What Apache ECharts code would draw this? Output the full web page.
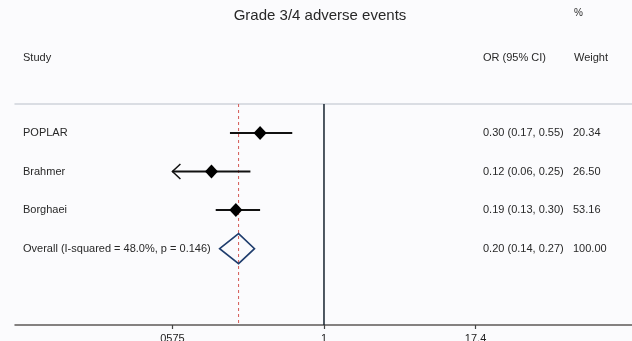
<!DOCTYPE html>
<html>
<head>
<meta charset="utf-8">
<script src="https://cdn.jsdelivr.net/npm/echarts@6/dist/echarts.min.js"></script>
<style>
  html, body { margin: 0; padding: 0; background: #fbfbfd; }
  #chart { width: 632px; height: 341px; }
</style>
</head>
<body>
<div id="chart"></div>
<script>
// Per-study odds ratios for grade 3/4 adverse events
const studies = ['POPLAR', 'Brahmer', 'Borghaei'];
const oddsRatios = [0.30, 0.12, 0.19];
const ciLower = [0.17, 0.057, 0.13];
const ciUpper = [0.55, 0.25, 0.30];
const weights = [20.34, 26.50, 53.16];

// Pooled estimate
const overallLabel = 'Overall (I-squared = 48.0%, p = 0.146)';
const overallOR = 0.20;
const overallLower = 0.14;
const overallUpper = 0.27;
const overallWeight = 100.00;

// Log-axis ticks
const tickValues = [0.0575, 1, 17.4];
const tickLabels = ['0575', '1', '17.4'];

const FONT = '"Liberation Sans", Arial, sans-serif';
const TEXT_COLOR = '#282828';
const X_MIN = 0.002961;
const X_MAX = 331.6;
const Y_MIN = 0.25;
const Y_MAX = 5.98;
const COL_STUDY = 23;
const COL_OR = 483;
const COL_WEIGHT = 573;

const fmt = v => v.toFixed(2);

function rowText(text, x, y) {
  return {
    type: 'text',
    style: { text: text, x: x, y: y, font: '11px ' + FONT, fill: TEXT_COLOR, verticalAlign: 'middle' }
  };
}

const studyData = studies.map((s, i) => [oddsRatios[i], i + 1, ciLower[i], ciUpper[i], weights[i], i]);
const overallData = [[overallOR, studies.length + 1, overallLower, overallUpper, overallWeight]];

// One row per study: CI bar (arrow when it runs past the axis), point estimate, text columns
function renderStudy(params, api) {
  const i = api.value(5);
  const row = api.value(1);
  const lo = api.value(2);
  const hi = api.value(3);
  const axisLo = tickValues[0];
  const clipped = lo < axisLo;
  const c = api.coord([api.value(0), row]);
  const pLo = api.coord([clipped ? axisLo : lo, row]);
  const pHi = api.coord([hi, row]);
  const children = [
    { type: 'line', shape: { x1: pLo[0], y1: pLo[1], x2: pHi[0], y2: pHi[1] },
      style: { stroke: '#111', lineWidth: 2 } },
    { type: 'polygon', shape: { points: [[c[0] - 6.5, c[1]], [c[0], c[1] - 7], [c[0] + 6.5, c[1]], [c[0], c[1] + 7]] },
      style: { fill: '#000' } }
  ];
  if (clipped) {
    children.push({ type: 'polyline',
      shape: { points: [[pLo[0] + 8, pLo[1] - 7.5], [pLo[0], pLo[1]], [pLo[0] + 8, pLo[1] + 7.5]] },
      style: { stroke: '#111', lineWidth: 1.5, fill: null } });
  }
  children.push(rowText(studies[i], COL_STUDY, c[1]));
  children.push(rowText(fmt(api.value(0)) + ' (' + fmt(lo) + ', ' + fmt(hi) + ')', COL_OR, c[1]));
  children.push(rowText(fmt(api.value(4)), COL_WEIGHT, c[1]));
  return { type: 'group', children: children };
}

// Pooled row: hollow diamond spanning the pooled CI
function renderOverall(params, api) {
  const row = api.value(1);
  const c = api.coord([api.value(0), row]);
  const pLo = api.coord([api.value(2), row]);
  const pHi = api.coord([api.value(3), row]);
  return { type: 'group', children: [
    { type: 'polygon',
      shape: { points: [[pLo[0], c[1]], [c[0], c[1] - 15], [pHi[0], c[1]], [c[0], c[1] + 15]] },
      style: { stroke: '#1f3d6d', lineWidth: 1.6, fill: null } },
    rowText(overallLabel, COL_STUDY, c[1]),
    rowText(fmt(api.value(0)) + ' (' + fmt(api.value(2)) + ', ' + fmt(api.value(3)) + ')', COL_OR, c[1]),
    rowText(fmt(api.value(4)), COL_WEIGHT, c[1])
  ] };
}

const chart = echarts.init(document.getElementById('chart'), null, { renderer: 'canvas' });
chart.setOption({
  animation: false,
  backgroundColor: '#fbfbfd',
  grid: { left: 15, right: 0, top: 104, bottom: 16, containLabel: false, outerBoundsMode: 'none' },
  xAxis: [
    {
      type: 'log', logBase: 10, min: X_MIN, max: X_MAX, position: 'bottom',
      axisLine: { lineStyle: { color: '#5e5957', width: 1.5 } },
      axisTick: { customValues: tickValues, length: 4, lineStyle: { color: '#444', width: 1.2 } },
      axisLabel: {
        customValues: tickValues, margin: 8, color: '#222', fontSize: 11, fontFamily: FONT,
        formatter: v => {
          const k = tickValues.findIndex(t => Math.abs(t - v) / t < 1e-6);
          return k >= 0 ? tickLabels[k] : '';
        }
      },
      splitLine: { show: false }, minorTick: { show: false }
    },
    {
      type: 'log', logBase: 10, min: X_MIN, max: X_MAX, position: 'top',
      axisLine: { lineStyle: { color: '#cfd4da', width: 1.5 } },
      axisTick: { show: false }, axisLabel: { show: false }, splitLine: { show: false }
    }
  ],
  yAxis: { type: 'value', min: Y_MIN, max: Y_MAX, inverse: true, show: false, splitLine: { show: false } },
  graphic: [
    { type: 'text', x: 320, y: 16, style: { text: 'Grade 3/4 adverse events', font: '15px ' + FONT, fill: TEXT_COLOR, align: 'center', verticalAlign: 'middle' } },
    { type: 'text', x: 574, y: 13, style: { text: '%', font: '10px ' + FONT, fill: TEXT_COLOR, verticalAlign: 'middle' } },
    { type: 'text', x: COL_STUDY, y: 58, style: { text: 'Study', font: '11px ' + FONT, fill: TEXT_COLOR, verticalAlign: 'middle' } },
    { type: 'text', x: COL_OR, y: 58, style: { text: 'OR (95% CI)', font: '11px ' + FONT, fill: TEXT_COLOR, verticalAlign: 'middle' } },
    { type: 'text', x: COL_WEIGHT + 1, y: 58, style: { text: 'Weight', font: '11px ' + FONT, fill: TEXT_COLOR, verticalAlign: 'middle' } }
  ],
  series: [
    {
      name: 'null', type: 'line', silent: true, symbol: 'none', z: 1,
      data: [[1, Y_MIN], [1, Y_MAX]],
      lineStyle: { color: '#16232e', width: 1.5 }
    },
    {
      name: 'pooled', type: 'line', silent: true, symbol: 'none', z: 1,
      data: [[overallOR, Y_MIN], [overallOR, Y_MAX]],
      lineStyle: { color: '#d45a55', width: 1, type: [3, 3] }
    },
    { name: 'studies', type: 'custom', clip: false, z: 3, data: studyData, renderItem: renderStudy, encode: { x: 0, y: 1 } },
    { name: 'overall', type: 'custom', clip: false, z: 3, data: overallData, renderItem: renderOverall, encode: { x: 0, y: 1 } }
  ]
});
</script>
</body>
</html>
